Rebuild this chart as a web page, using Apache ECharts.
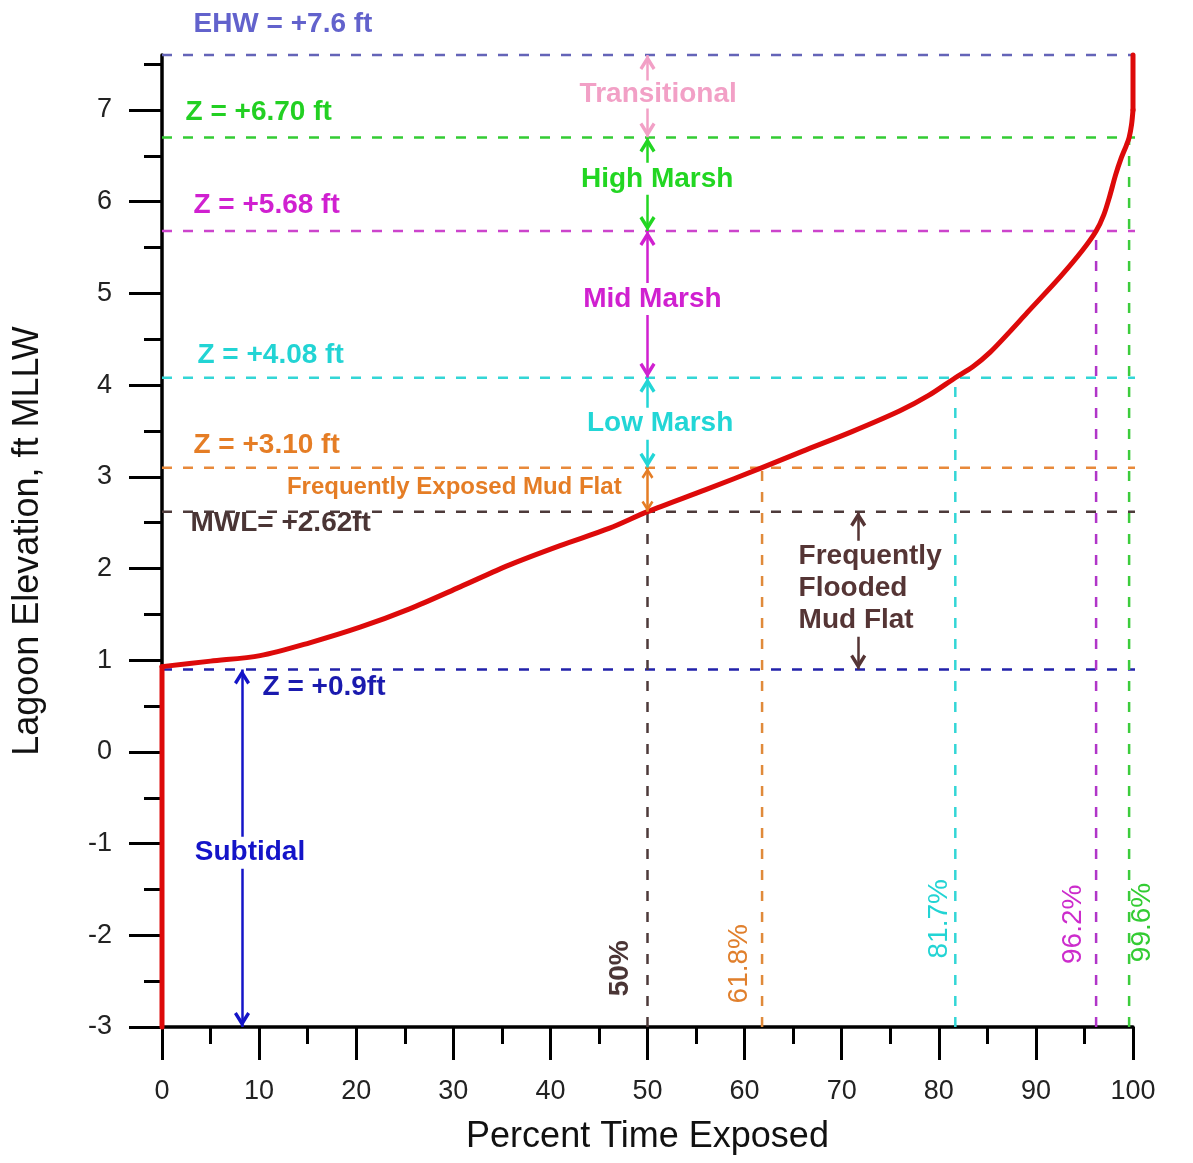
<!DOCTYPE html>
<html><head><meta charset="utf-8">
<script src="https://cdn.jsdelivr.net/npm/echarts@6/dist/echarts.min.js"></script>
<style>html,body{margin:0;padding:0;background:#fff}#c{width:1193px;height:1163px}</style>
</head><body><div id="c"></div>
<script>
// ---- data ----
const curveX = [0, 0, 5, 10.1, 15.2, 20.4, 25.5, 30.7, 35.8, 41, 46.1, 50, 56, 61.8, 66, 71, 76, 79, 81.7, 83.5, 85.3, 87.2, 89.1, 92.5, 94.8, 96.2, 97.0, 97.6, 98.2, 98.8, 99.3, 99.6, 99.85, 100, 100];
const curveY = [-3, 0.93, 0.99, 1.05, 1.19, 1.36, 1.56, 1.80, 2.04, 2.25, 2.44, 2.62, 2.86, 3.10, 3.28, 3.49, 3.72, 3.89, 4.08, 4.20, 4.36, 4.57, 4.79, 5.18, 5.47, 5.68, 5.86, 6.06, 6.29, 6.48, 6.61, 6.70, 6.84, 7.0, 7.6];
const levelValues = [7.6, 6.70, 5.68, 4.08, 3.10, 2.62, 0.9];
const levelLabels = ['EHW = +7.6 ft', 'Z = +6.70 ft', 'Z = +5.68 ft', 'Z = +4.08 ft', 'Z = +3.10 ft', 'MWL= +2.62ft', 'Z = +0.9ft'];
const percentValues = [50, 61.8, 81.7, 96.2, 99.6];
const percentLevels = [2.62, 3.10, 4.08, 5.68, 6.70];
const percentLabels = ['50%', '61.8%', '81.7%', '96.2%', '99.6%'];
const zoneLabels = ['Transitional', 'High Marsh', 'Mid Marsh', 'Low Marsh', 'Frequently Exposed Mud Flat', 'Frequently\nFlooded\nMud Flat', 'Subtidal'];
const yTickLabels = [-3, -2, -1, 0, 1, 2, 3, 4, 5, 6, 7];
const yMinorTicks = [-2.5, -1.5, -0.5, 0.5, 1.5, 2.5, 3.5, 4.5, 5.5, 6.5, 7.5];

// ---- styles ----
const FONT = 'Liberation Sans, Arial, sans-serif';
const levelColors = ['#6464b8', '#33cc33', '#cc44cc', '#33d6d6', '#e8893a', '#4d3a3a', '#2222aa'];
const levelTextColors = ['#6262cc', '#22d022', '#d020d0', '#22d4d4', '#e57d25', '#4a3535', '#1a1aae'];
const percentColors = ['#4d3a3a', '#e08a3a', '#33d6d6', '#b035c8', '#3ccc3c'];
const percentTextColors = ['#4a3535', '#e07f2c', '#22d4d4', '#cc2ccc', '#33cc33'];
const DASH = [10, 11];
const XMAX_LINE = 105.8;

const series = [];
// horizontal reference lines
levelValues.forEach((v, i) => {
  series.push({
    type: 'line', clip: false, symbol: 'none', silent: true, z: 2,
    data: [[0, v], [XMAX_LINE, v]],
    lineStyle: { color: levelColors[i], width: 2.5, type: DASH }
  });
});
// vertical reference lines
percentValues.forEach((p, i) => {
  series.push({
    type: 'line', clip: false, symbol: 'none', silent: true, z: 2,
    data: [[p, -3], [p, percentLevels[i]]],
    lineStyle: { color: percentColors[i], width: 2.5, type: DASH }
  });
});
// curve: straight vertical ends, smooth middle
const curvePts = curveX.map((x, i) => [x, curveY[i]]);
const n = curvePts.length;
const curveStyle = { color: '#dd0a0a', width: 5, join: 'round', cap: 'round' };
series.push({ type: 'line', clip: false, symbol: 'none', silent: true, z: 3, data: curvePts.slice(0, 2), lineStyle: curveStyle });
series.push({ type: 'line', clip: false, symbol: 'none', silent: true, z: 3, smooth: 0.3, data: curvePts.slice(1, n - 1), lineStyle: curveStyle });
series.push({ type: 'line', clip: false, symbol: 'none', silent: true, z: 3, data: curvePts.slice(n - 2), lineStyle: curveStyle });

// arrows (zone extents); chevron with tip at the symbol centre
const CHEV = 'path://M7,0 L14,10 L11.6,11.6 L7,5.2 L2.4,11.6 L0,10 Z M7,-11.6 L7.01,-11.6';
const zoneBounds = [[7.6, 6.70], [6.70, 5.68], [5.68, 4.08], [4.08, 3.10], [3.10, 2.62], [2.62, 0.9], [0.9, -3]];
const zoneArrowX = [50, 50, 50, 50, 50, 71.7, 8.24];
const zoneColors = ['#f2a0c6', '#22d622', '#d020d0', '#22d6d6', '#e57d25', '#553535', '#1414c8'];
const BIG = [16, 30], SMALL = [12, 22];
series.push({
  type: 'line', data: [], z: 4, silent: true,
  markLine: {
    silent: true, animation: false,
    symbol: [CHEV, CHEV], symbolSize: BIG,
    label: { show: false },
    data: zoneBounds.map((b, i) => [
      { coord: [zoneArrowX[i], b[0]], lineStyle: { color: zoneColors[i], width: 2.5, type: 'solid' }, itemStyle: { color: zoneColors[i] },
        symbolSize: i === 4 ? SMALL : BIG },
      { coord: [zoneArrowX[i], b[1]], symbolSize: i === 4 ? SMALL : BIG }
    ])
  }
});

// text annotations
function txt(x, y, text, lab) {
  return { value: [x, y], label: Object.assign({ show: true, formatter: text, fontFamily: FONT, fontWeight: 'bold', fontSize: 28, opacity: 1 }, lab) };
}
const levelLabelPos = [[3.19, 7.94], [2.37, 6.97], [3.19, 5.96], [3.6, 4.32], [3.19, 3.34], [2.88, 2.49], [10.3, 0.70]];
const zoneLabelPos = [[51.1, 7.17], [51.0, 6.25], [50.5, 4.94], [51.3, 3.58], [30.1, 2.89], [65.2, 1.78], [9.06, -1.10]];
const percentLabelPos = [[47.2, -2.36], [59.5, -2.31], [80.1, -1.82], [93.8, -1.88], [101.0, -1.86]];
const annot = [];
levelLabels.forEach((t, i) => annot.push(txt(levelLabelPos[i][0], levelLabelPos[i][1], t, { position: 'right', distance: 0, color: levelTextColors[i] })));
zoneLabels.forEach((t, i) => {
  const extra = { position: 'inside', color: zoneColors[i], backgroundColor: '#fff', padding: [2, 3] };
  if (i === 4) { extra.fontSize = 24; extra.backgroundColor = 'transparent'; }
  if (i === 5) { extra.position = 'right'; extra.distance = 0; extra.align = 'left'; extra.lineHeight = 32; extra.padding = [0, 3]; }
  if (i === 0) { extra.padding = [0, 3]; }
  annot.push(txt(zoneLabelPos[i][0], zoneLabelPos[i][1], t, extra));
});
percentLabels.forEach((t, i) => annot.push(txt(percentLabelPos[i][0], percentLabelPos[i][1], t, { position: 'inside', rotate: 90, color: percentTextColors[i], fontWeight: i === 0 ? 'bold' : 'normal' })));
series.push({
  type: 'scatter', clip: false, silent: true, z: 6, symbolSize: 1,
  itemStyle: { color: 'rgba(0,0,0,0)', opacity: 1 },
  data: annot
});

const chart = echarts.init(document.getElementById('c'), null, { renderer: 'canvas' });
chart.setOption({
  animation: false,
  backgroundColor: '#fff',
  grid: { left: 162, right: 60, top: 55, bottom: 136, outerBoundsMode: 'none' },
  xAxis: {
    type: 'value', min: 0, max: 100, interval: 10,
    name: 'Percent Time Exposed', nameLocation: 'middle', nameGap: 92,
    nameTextStyle: { fontFamily: FONT, fontSize: 36, color: '#111' },
    axisLine: { show: true, onZero: false, lineStyle: { color: '#000', width: 3.5 } },
    axisTick: { show: true, length: 33, lineStyle: { color: '#000', width: 3 } },
    minorTick: { show: true, splitNumber: 2, length: 17, lineStyle: { color: '#000', width: 3 } },
    axisLabel: { margin: 51, fontFamily: FONT, fontSize: 27, color: '#222' },
    splitLine: { show: false }, minorSplitLine: { show: false }
  },
  yAxis: [{
    type: 'value', min: -3, max: 7.6, interval: 1, position: 'left',
    name: 'Lagoon Elevation, ft MLLW', nameLocation: 'middle', nameGap: 116, nameRotate: 90,
    nameTextStyle: { fontFamily: FONT, fontSize: 36, color: '#111' },
    axisLine: { show: true, onZero: false, lineStyle: { color: '#000', width: 3.5 } },
    axisTick: { show: true, length: 33, customValues: yTickLabels, lineStyle: { color: '#000', width: 3 } },
    axisLabel: { margin: 50, customValues: yTickLabels, fontFamily: FONT, fontSize: 27, color: '#222' },
    splitLine: { show: false }
  }, {
    type: 'value', min: -3, max: 7.6, interval: 1, position: 'left', offset: 0,
    axisLine: { show: false },
    axisTick: { show: true, length: 18, customValues: yMinorTicks, lineStyle: { color: '#000', width: 3 } },
    axisLabel: { show: false },
    splitLine: { show: false }
  }],
  series: series
});
</script></body></html>
